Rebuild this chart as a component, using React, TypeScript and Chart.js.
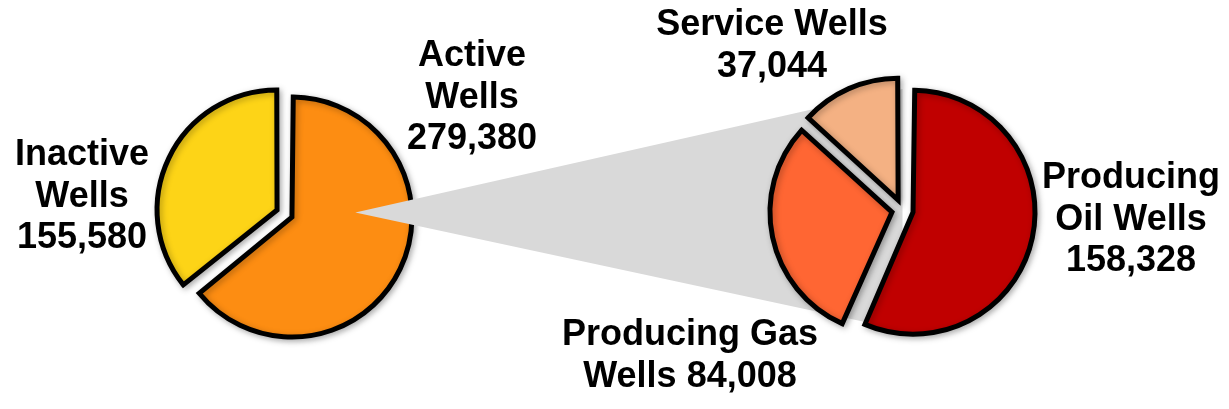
import React, { useEffect, useRef } from 'react';
import { Chart, registerables } from 'chart.js';

Chart.register(...registerables);

// ---- data ----
const overviewCategories = ['Active Wells', 'Inactive Wells'];
const overviewValues = [279380, 155580];
const overviewColors = ['#FD8D12', '#FDD417'];

const activeCategories = ['Producing Oil Wells', 'Producing Gas Wells', 'Service Wells'];
const activeValues = [158328, 84008, 37044];
const activeColors = ['#C00000', '#FF6633', '#F4B183'];

// label line templates ({v} = value)
const overviewLabelLines = [
  ['Active', 'Wells', '{v}'],
  ['Inactive', 'Wells', '{v}'],
];
const activeLabelLines = [
  ['Producing', 'Oil Wells', '{v}'],
  ['Producing Gas', 'Wells {v}'],
  ['Service Wells', '{v}'],
];

// ---- layout ----
const W = 1229;
const H = 409;
const LEFT = { cx: 284.5, cy: 213.5, r: 120, offset: 33 };
const RIGHT = { cx: 902.5, cy: 210, r: 122, offset: 43 };
const overviewLabelPos = [
  { x: 472, y: 66 },
  { x: 82, y: 165 },
];
const activeLabelPos = [
  { x: 1131, y: 188 },
  { x: 690, y: 345 },
  { x: 772, y: 35 },
];
const LINE_H = 41.5;
const FONT = 'bold 36px "Liberation Sans", Arial, sans-serif';

function padFor(p: { cx: number; cy: number }) {
  const left = p.cx > W / 2 ? 2 * p.cx - W : 0;
  const right = p.cx > W / 2 ? 0 : W - 2 * p.cx;
  const top = p.cy > H / 2 ? 2 * p.cy - H : 0;
  const bottom = p.cy > H / 2 ? 0 : H - 2 * p.cy;
  return { left, right, top, bottom };
}

const fmt = (v: number) => v.toLocaleString('en-US');

function radiusFix(R: number, offset: number) {
  return {
    id: 'radiusFix',
    beforeDatasetsDraw(chart: any) {
      chart.getDatasetMeta(0).data.forEach((arc: any) => {
        const fix = 1 - Math.sin(Math.min(Math.PI, arc.circumference || 0));
        arc.outerRadius = R - (offset / 4) * fix;
      });
    },
  };
}

const shadow = {
  id: 'softShadow',
  beforeDatasetsDraw(chart: any) {
    const c = chart.ctx;
    c.save();
    c.shadowColor = 'rgba(0,0,0,0.28)';
    c.shadowBlur = 6;
    c.shadowOffsetX = 2;
    c.shadowOffsetY = 2;
  },
  afterDatasetsDraw(chart: any) {
    chart.ctx.restore();
  },
};

const connector = {
  id: 'connector',
  afterDraw(chart: any) {
    const c = chart.ctx;
    const arc = chart.getDatasetMeta(0).data[0];
    const tipX = arc.x + 0.59 * LEFT.r;
    const tipY = arc.y - 1;
    c.save();
    c.fillStyle = '#D9D9D9';
    c.beginPath();
    c.moveTo(tipX, tipY);
    c.lineTo(RIGHT.cx, RIGHT.cy - RIGHT.r + 1);
    c.lineTo(RIGHT.cx, RIGHT.cy + RIGHT.r - 2);
    c.closePath();
    c.fill();
    c.restore();
  },
};

function drawLabels(c: CanvasRenderingContext2D, lines: string[][], pos: { x: number; y: number }[], values: number[]) {
  c.save();
  c.font = FONT;
  c.fillStyle = '#000';
  c.textAlign = 'center';
  c.textBaseline = 'alphabetic';
  lines.forEach((ls, i) => {
    ls.forEach((t, j) => {
      c.fillText(t.replace('{v}', fmt(values[i])), pos[i].x, pos[i].y + j * LINE_H);
    });
  });
  c.restore();
}

const labelsPlugin = {
  id: 'labels',
  afterDraw(chart: any) {
    drawLabels(chart.ctx, overviewLabelLines, overviewLabelPos, overviewValues);
    drawLabels(chart.ctx, activeLabelLines, activeLabelPos, activeValues);
  },
};

function pieConfig(labels: string[], values: number[], colors: string[], geo: any, extra: any[]) {
  return {
    type: 'pie' as const,
    data: {
      labels,
      datasets: [
        {
          data: values,
          backgroundColor: colors,
          borderColor: '#000000',
          borderWidth: 5,
          borderJoinStyle: 'miter',
          offset: geo.offset,
          radius: geo.r,
        },
      ],
    },
    options: {
      responsive: false,
      animation: false,
      events: [],
      radius: geo.r,
      layout: { padding: padFor(geo) },
      plugins: {
        legend: { display: false },
        tooltip: { enabled: false },
      },
    },
    plugins: [radiusFix(geo.r, geo.offset), shadow, ...extra],
  };
}

export default function App() {
  const aRef = useRef<HTMLCanvasElement>(null);
  const bRef = useRef<HTMLCanvasElement>(null);

  useEffect(() => {
    const a = new Chart(aRef.current as HTMLCanvasElement, pieConfig(overviewCategories, overviewValues, overviewColors, LEFT, [connector]) as any);
    const b = new Chart(bRef.current as HTMLCanvasElement, pieConfig(activeCategories, activeValues, activeColors, RIGHT, [labelsPlugin]) as any);
    return () => {
      a.destroy();
      b.destroy();
    };
  }, []);

  const cs: React.CSSProperties = { position: 'absolute', left: 0, top: 0, width: W, height: H };
  return (
    <div style={{ position: 'fixed', left: 0, top: 0, width: W, height: H, background: '#ffffff' }}>
      <canvas ref={aRef} width={W} height={H} style={cs} />
      <canvas ref={bRef} width={W} height={H} style={cs} />
    </div>
  );
}
